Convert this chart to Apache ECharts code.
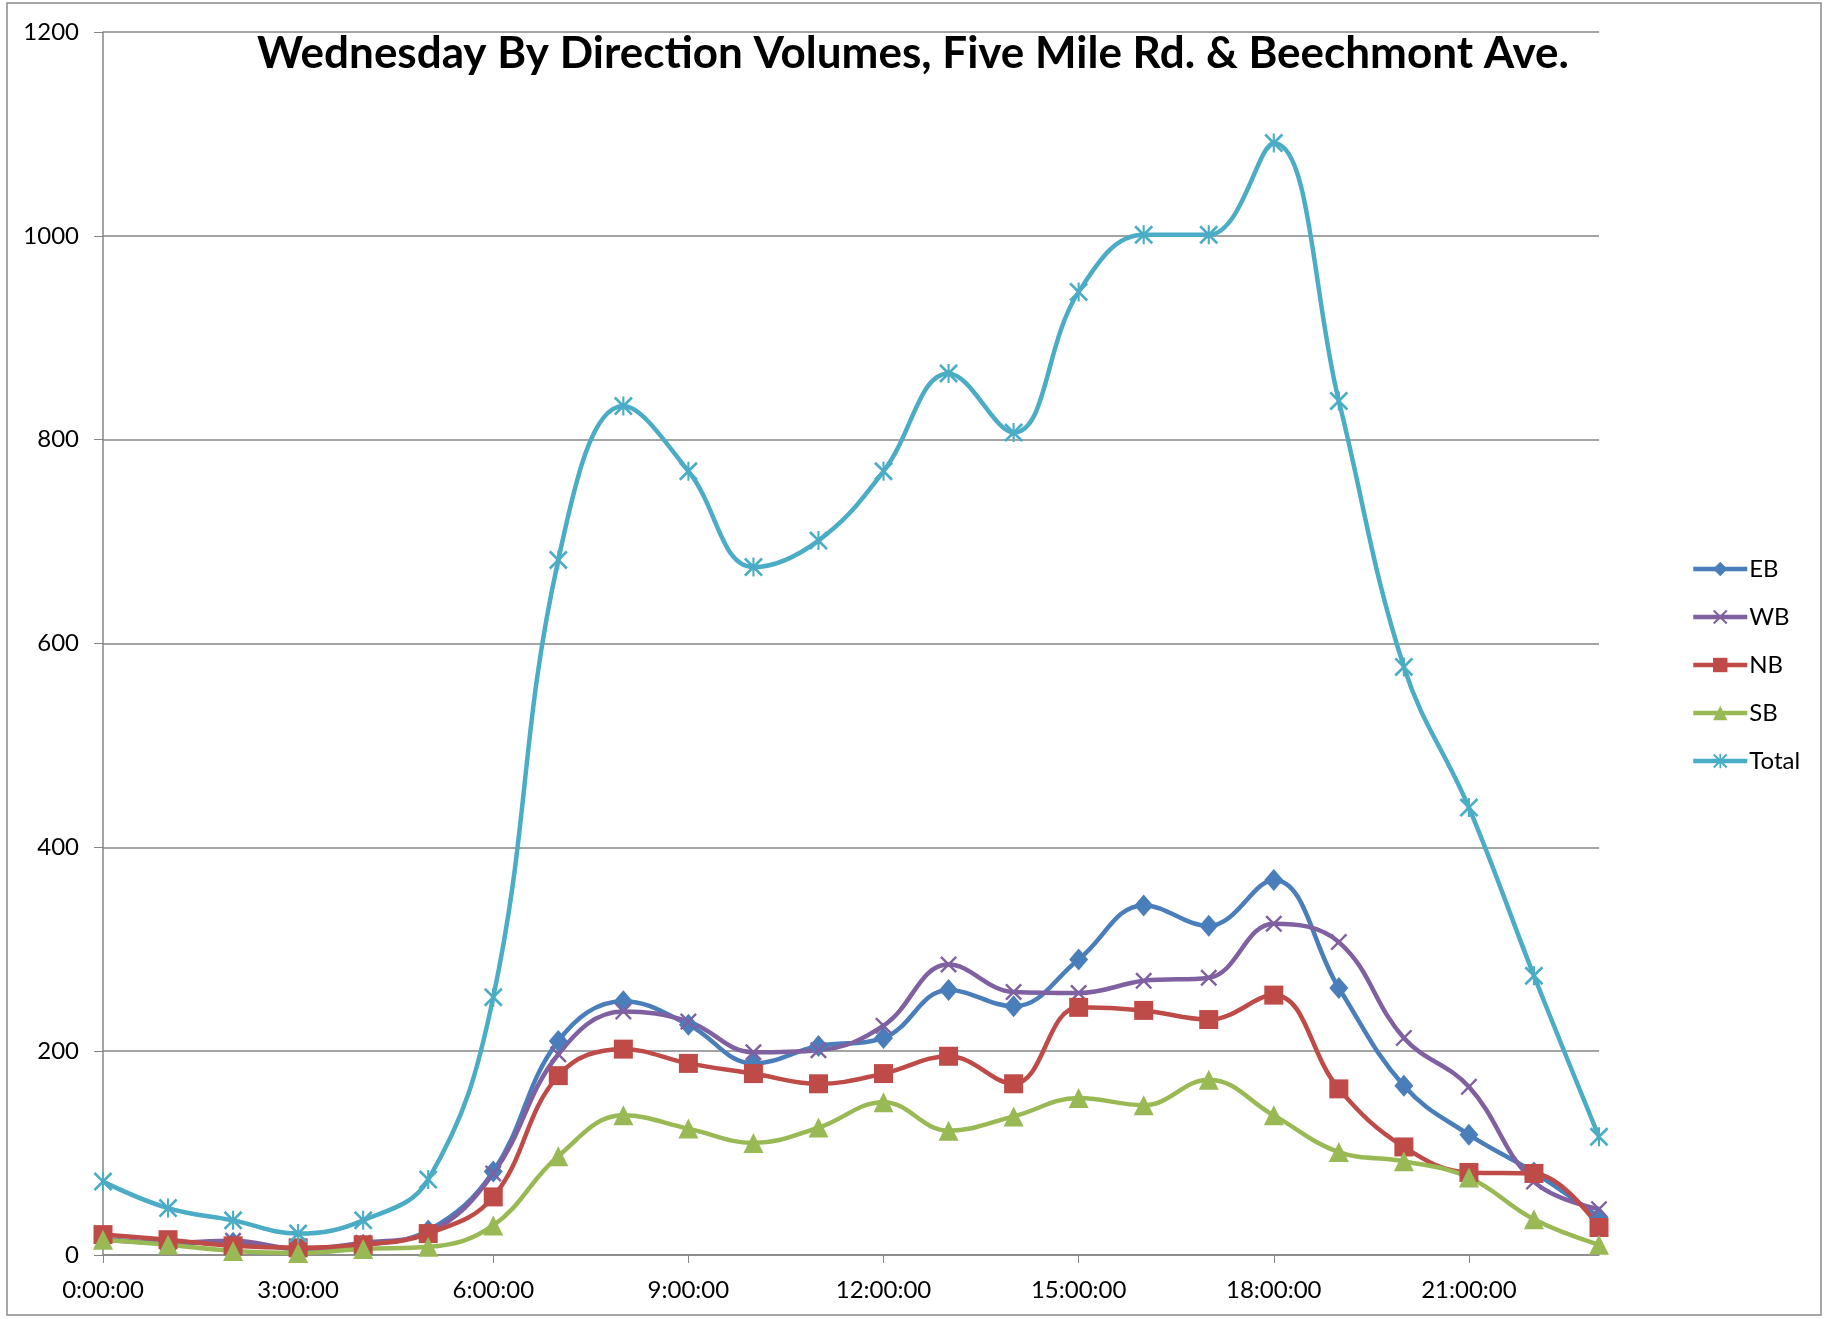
<!DOCTYPE html>
<html>
<head>
<meta charset="utf-8">
<script src="https://cdn.jsdelivr.net/npm/echarts@6/dist/echarts.min.js"></script>
<style>
  html, body { margin: 0; padding: 0; background: #fff; }
  #chart { width: 1826px; height: 1319px; }
</style>
</head>
<body>
<div id="chart"></div>
<script>
var hours = ['0:00:00', '1:00:00', '2:00:00', '3:00:00', '4:00:00', '5:00:00',
    '6:00:00', '7:00:00', '8:00:00', '9:00:00', '10:00:00', '11:00:00',
    '12:00:00', '13:00:00', '14:00:00', '15:00:00', '16:00:00', '17:00:00',
    '18:00:00', '19:00:00', '20:00:00', '21:00:00', '22:00:00', '23:00:00'];

var eb = [16, 12, 12, 6, 10, 24, 82, 210, 249, 226, 188, 205, 213, 260, 244, 290, 343, 323, 368, 262, 166, 118, 81, 37];
var wb = [15, 12, 14, 6, 12, 22, 80, 197, 239, 229, 199, 201, 225, 285, 258, 257, 269, 272, 325, 307, 213, 165, 72, 45];
var nb = [20, 15, 9, 7, 10, 21, 57, 176, 202, 188, 178, 168, 178, 195, 168, 243, 240, 231, 255, 163, 106, 81, 80, 27];
var sb = [15, 10, 4, 2, 6, 8, 29, 97, 137, 124, 110, 125, 150, 122, 136, 154, 147, 172, 137, 101, 92, 76, 35, 10];
var total = [72, 46, 34, 21, 34, 74, 253, 682, 833, 769, 675, 701, 769, 865, 807, 945, 1001, 1001, 1091, 838, 577, 439, 274, 116];

var xMark = 'path://M0,1L1,0L5,4L9,0L10,1L6,5L10,9L9,10L5,6L1,10L0,9L4,5Z';
var starMark = 'path://M0,1L1,0L5,4L9,0L10,1L6,5L10,9L9,10L5,6L1,10L0,9L4,5Z M4.45,0L5.55,0L5.55,10L4.45,10Z';

var font = 'Lato, "Open Sans", sans-serif';

function makeSeries(name, data, color, symbol, size) {
    return {
        name: name,
        type: 'line',
        data: data,
        smooth: 0.4,
        symbol: symbol,
        symbolSize: size,
        showAllSymbol: true,
        lineStyle: { color: color, width: 4.5 },
        itemStyle: { color: color },
        emphasis: { disabled: true }
    };
}

var chart = echarts.init(document.getElementById('chart'));

var option = {
    animation: false,
    textStyle: { fontFamily: font },
    title: {
        text: 'Wednesday By Direction Volumes, Five Mile Rd. & Beechmont Ave.',
        left: 'center',
        top: 27,
        textStyle: { fontFamily: font, fontSize: 44, fontWeight: 'bold', color: '#000' }
    },
    legend: {
        orient: 'vertical',
        left: 1686,
        top: 550,
        itemWidth: 54,
        itemHeight: 18,
        itemGap: 20,
        lineStyle: { width: 4.5 },
        textStyle: { fontFamily: font, fontSize: 24, color: '#000', lineHeight: 28, padding: [0, 0, 0, -3] },
        data: ['EB', 'WB', 'NB', 'SB', 'Total']
    },
    grid: { left: 103, right: 227, top: 32, bottom: 64, containLabel: false },
    xAxis: {
        type: 'category',
        data: hours,
        boundaryGap: false,
        axisLine: { lineStyle: { color: '#868686', width: 1.5 } },
        axisTick: { interval: 2, length: 8, lineStyle: { color: '#868686' } },
        axisLabel: { interval: 2, margin: 23, fontSize: 24, color: '#000', fontFamily: font },
        splitLine: { show: false }
    },
    yAxis: {
        type: 'value',
        min: 0,
        max: 1200,
        interval: 200,
        axisLine: { show: true, lineStyle: { color: '#868686', width: 1.5 } },
        axisTick: { show: true, length: 9, lineStyle: { color: '#868686' } },
        axisLabel: {
            margin: 24, fontSize: 24, color: '#000', fontFamily: font,
            formatter: function (v) { return String(v); }
        },
        splitLine: { lineStyle: { color: '#868686', width: 1.5 } }
    },
    graphic: [{
        type: 'rect',
        shape: { x: 7, y: 3, width: 1814, height: 1312 },
        style: { fill: 'none', stroke: '#8c8c8c', lineWidth: 1.5 },
        silent: true
    }],
    series: [
        makeSeries('EB', eb, '#4A7EBB', 'diamond', [19, 22]),
        makeSeries('WB', wb, '#7F60A0', xMark, 17),
        makeSeries('NB', nb, '#BE4B48', 'rect', 19),
        makeSeries('SB', sb, '#98B954', 'triangle', 20),
        makeSeries('Total', total, '#4BACC6', starMark, 19)
    ]
};

chart.setOption(option);
</script>
</body>
</html>
